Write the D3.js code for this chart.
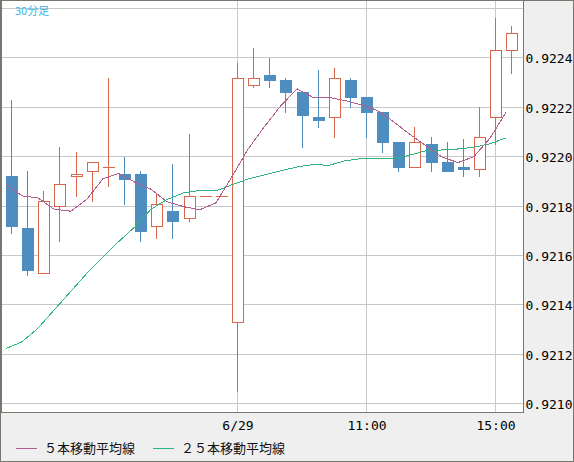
<!DOCTYPE html>
<html>
<head>
<meta charset="utf-8">
<script src="https://cdn.jsdelivr.net/npm/d3@7"></script>
<style>
  html, body { margin: 0; padding: 0; background: #fff; }
  svg { display: block; }
</style>
</head>
<body>
<div id="chart"></div>
<script>
// 30 minute candles, oldest first
const opens = [0.92192, 0.92171, 0.92153, 0.92180, 0.92192, 0.92194, 0.92196, 0.92193,
  0.92193, 0.92172, 0.92178, 0.92175, 0.92184, 0.92184, 0.92133, 0.92229,
  0.92233, 0.92231, 0.92226, 0.92216, 0.92216, 0.92231, 0.92224, 0.92218,
  0.92206, 0.92196, 0.92205, 0.92198, 0.92196, 0.92195, 0.92216, 0.92243];
const highs = [0.92223, 0.92194, 0.92186, 0.92204, 0.92202, 0.92198, 0.92232, 0.92200,
  0.92194, 0.92185, 0.92197, 0.92209, 0.92184, 0.92184, 0.92238, 0.92244,
  0.92240, 0.92232, 0.92226, 0.92235, 0.92236, 0.92232, 0.92224, 0.92218,
  0.92206, 0.92212, 0.92208, 0.92206, 0.92207, 0.92220, 0.92256, 0.92253];
const lows = [0.92169, 0.92152, 0.92153, 0.92166, 0.92184, 0.92182, 0.92188, 0.92181,
  0.92166, 0.92167, 0.92167, 0.92174, 0.92184, 0.92184, 0.92105, 0.92228,
  0.92228, 0.92218, 0.92204, 0.92212, 0.92208, 0.92220, 0.92208, 0.92202,
  0.92194, 0.92196, 0.92194, 0.92194, 0.92192, 0.92192, 0.92205, 0.92234];
const closes = [0.92172, 0.92154, 0.92182, 0.92189, 0.92193, 0.92198, 0.92196, 0.92191,
  0.92170, 0.92181, 0.92174, 0.92184, 0.92184, 0.92184, 0.92232, 0.92232,
  0.92231, 0.92226, 0.92217, 0.92215, 0.92232, 0.92224, 0.92218, 0.92206,
  0.92196, 0.92206, 0.92198, 0.92194, 0.92195, 0.92208, 0.92243, 0.92250];

// moving averages
const ma5 = [0.921887, 0.921841, 0.921833, 0.921787, 0.921779, 0.921828, 0.921911, 0.921932,
  0.921896, 0.921868, 0.921817, 0.921797, 0.921785, 0.921813, 0.921919, 0.922030,
  0.922119, 0.922202, 0.922275, 0.922240, 0.922240, 0.922227, 0.922210, 0.922188,
  0.922143, 0.922093, 0.922044, 0.921998, 0.921976, 0.922000, 0.922075, 0.922179];
const ma25 = [0.921223, 0.921250, 0.921305, 0.921378, 0.921455, 0.921528, 0.921593, 0.921657,
  0.921716, 0.921787, 0.921826, 0.921854, 0.921863, 0.921861, 0.921886, 0.921909,
  0.921926, 0.921942, 0.921958, 0.921968, 0.921965, 0.921983, 0.921992, 0.921992,
  0.921992, 0.922005, 0.922024, 0.922027, 0.922031, 0.922038, 0.922052, 0.922076];

const gridValues = [0.9210, 0.9212, 0.9214, 0.9216, 0.9218, 0.9220, 0.9222, 0.9224, 0.9226];
const yLabelValues = [0.9210, 0.9212, 0.9214, 0.9216, 0.9218, 0.9220, 0.9222, 0.9224];
const xTickIdx = [14, 22, 30];
const xTickLabels = ['6/29', '11:00', '15:00'];
const legendNames = ['５本移動平均線', '２５本移動平均線'];
const periodLabel = '30分足';

const width = 574;
const height = 462;
const plotRight = 523;
const plotBottom = 412;
const bodyW = 12;

const colUp = '#d8664a';
const colDown = '#4e8dc0';
const colMa5 = '#b35e8e';
const colMa25 = '#2fb47c';
const colGrid = '#c8c8c8';
const colFrame = '#77776f';
const monoFont = '"DejaVu Sans Mono", monospace';
const cjkFont = '"Noto Sans CJK JP", "Noto Sans", sans-serif';

const x = d3.scaleBand()
  .domain(d3.range(opens.length))
  .range([3.93, 520.4]);

const y = d3.scaleLinear()
  .domain([0.9210, 0.9226])
  .range([403.5, 8.5]);

// left edge of a candle body, snapped to the pixel grid
const left = (i) => Math.round(x(i) + x.bandwidth() / 2 - bodyW / 2);
const py = (v) => Math.round(y(v));

const svg = d3.select('#chart').append('svg')
  .attr('width', width)
  .attr('height', height);

svg.append('rect')
  .attr('width', width)
  .attr('height', height)
  .attr('fill', '#efefef');

svg.append('rect')
  .attr('x', 1)
  .attr('y', 1)
  .attr('width', plotRight - 1)
  .attr('height', plotBottom - 1)
  .attr('fill', '#fff');

svg.append('clipPath').attr('id', 'plotClip')
  .append('rect')
  .attr('x', 1).attr('y', 1)
  .attr('width', plotRight - 1).attr('height', plotBottom - 1);

// grid
svg.append('g').selectAll('line')
  .data(gridValues)
  .enter().append('line')
  .attr('x1', 1).attr('x2', plotRight)
  .attr('y1', (d) => Math.floor(y(d)) + 0.5)
  .attr('y2', (d) => Math.floor(y(d)) + 0.5)
  .attr('stroke', colGrid)
  .attr('stroke-width', 1);

svg.append('g').selectAll('line')
  .data(xTickIdx)
  .enter().append('line')
  .attr('x1', (d) => left(d) + 5.5).attr('x2', (d) => left(d) + 5.5)
  .attr('y1', 1).attr('y2', plotBottom)
  .attr('stroke', colGrid)
  .attr('stroke-width', 1);

const plot = svg.append('g').attr('clip-path', 'url(#plotClip)');

// candles
const candles = plot.append('g')
  .attr('shape-rendering', 'crispEdges')
  .selectAll('g')
  .data(d3.range(opens.length))
  .enter().append('g');

candles.append('line')
  .attr('x1', (i) => left(i) + 5.5).attr('x2', (i) => left(i) + 5.5)
  .attr('y1', (i) => py(highs[i]))
  .attr('y2', (i) => py(lows[i]) + 1)
  .attr('stroke', (i) => closes[i] < opens[i] ? colDown : colUp)
  .attr('stroke-width', 1);

candles.filter((i) => closes[i] < opens[i])
  .append('rect')
  .attr('x', (i) => left(i))
  .attr('y', (i) => py(opens[i]))
  .attr('width', bodyW)
  .attr('height', (i) => Math.max(1, py(closes[i]) - py(opens[i]) + 1))
  .attr('fill', colDown);

candles.filter((i) => closes[i] > opens[i])
  .append('rect')
  .attr('x', (i) => left(i) + 0.5)
  .attr('y', (i) => py(closes[i]) + 0.5)
  .attr('width', bodyW - 1)
  .attr('height', (i) => py(opens[i]) - py(closes[i]))
  .attr('fill', '#fff')
  .attr('stroke', colUp)
  .attr('stroke-width', 1);

candles.filter((i) => closes[i] === opens[i])
  .append('line')
  .attr('x1', (i) => left(i)).attr('x2', (i) => left(i) + bodyW)
  .attr('y1', (i) => py(opens[i]) + 0.5)
  .attr('y2', (i) => py(opens[i]) + 0.5)
  .attr('stroke', colUp)
  .attr('stroke-width', 1);

// moving averages sit on the left edge of each body
const maLine = d3.line()
  .x((d, i) => left(i))
  .y((d) => y(d));

plot.append('path')
  .datum(ma25)
  .attr('d', maLine)
  .attr('fill', 'none')
  .attr('stroke', colMa25)
  .attr('stroke-width', 1)
  .attr('shape-rendering', 'crispEdges');

plot.append('path')
  .datum(ma5)
  .attr('d', maLine)
  .attr('fill', 'none')
  .attr('stroke', colMa5)
  .attr('stroke-width', 1)
  .attr('shape-rendering', 'crispEdges');

// plot frame and outer frame
svg.append('path')
  .attr('d', `M1,0V${plotBottom + 0.5}H${plotRight + 0.5}V0`)
  .attr('fill', 'none')
  .attr('stroke', colFrame)
  .attr('stroke-width', 1)
  .attr('shape-rendering', 'crispEdges');

svg.append('rect')
  .attr('x', 0.5).attr('y', 0.5)
  .attr('width', width - 1).attr('height', height - 1)
  .attr('fill', 'none')
  .attr('stroke', colFrame)
  .attr('stroke-width', 1)
  .attr('shape-rendering', 'crispEdges');

svg.append('line')
  .attr('x1', 0.5).attr('x2', 0.5)
  .attr('y1', 0).attr('y2', plotBottom)
  .attr('stroke', colFrame)
  .attr('stroke-width', 2)
  .attr('shape-rendering', 'crispEdges');

// price axis on the right
const yAxis = d3.axisRight(y)
  .tickValues(yLabelValues)
  .tickFormat(d3.format('.4f'))
  .tickSize(0)
  .tickPadding(3);

const yAxisG = svg.append('g')
  .attr('transform', `translate(${plotRight - 0.5},0)`)
  .call(yAxis);
yAxisG.select('.domain').remove();
yAxisG.selectAll('text')
  .attr('font-family', monoFont)
  .attr('font-size', 13)
  .attr('fill', '#000')
  .attr('dy', '0.36em')
  .attr('y', (d) => Math.floor(y(d)) + 0.5 - y(d));

// time labels
svg.append('g').selectAll('text')
  .data(xTickIdx)
  .enter().append('text')
  .attr('x', (d) => left(d) + 6)
  .attr('y', 429.5)
  .attr('text-anchor', 'middle')
  .attr('font-family', monoFont)
  .attr('font-size', 13)
  .attr('fill', '#000')
  .text((d, i) => xTickLabels[i]);

// period label
svg.append('text')
  .attr('x', 15)
  .attr('y', 15)
  .attr('font-family', cjkFont)
  .attr('font-size', 11)
  .attr('fill', '#35b6ea')
  .text(periodLabel);

// legend
const legendX = [16, 153];
const legend = svg.append('g').selectAll('g')
  .data(legendNames)
  .enter().append('g')
  .attr('transform', (d, i) => `translate(${legendX[i]},0)`);

legend.append('line')
  .attr('x1', 0).attr('x2', 21)
  .attr('y1', 448.5).attr('y2', 448.5)
  .attr('stroke', (d, i) => i === 0 ? colMa5 : colMa25)
  .attr('stroke-width', 1)
  .attr('shape-rendering', 'crispEdges');

legend.append('text')
  .attr('x', 28)
  .attr('y', 452.5)
  .attr('font-family', cjkFont)
  .attr('font-size', 13)
  .attr('fill', '#111')
  .text((d) => d);
</script>
</body>
</html>
